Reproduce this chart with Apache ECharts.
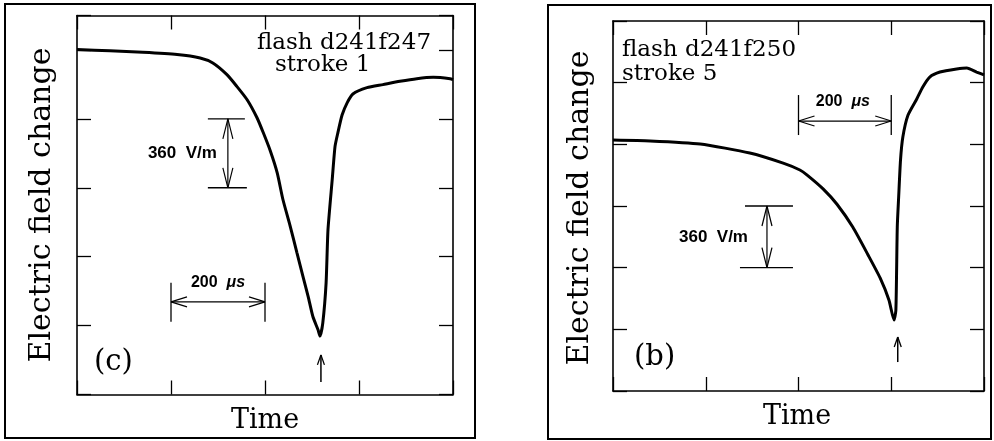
<!DOCTYPE html>
<html><head><meta charset="utf-8">
<script src="https://cdn.jsdelivr.net/npm/echarts@6/dist/echarts.min.js"></script>
<style>html,body{margin:0;padding:0;background:#fff}#c{width:994px;height:441px}</style>
</head><body><div id="c"></div>
<script>
// Panel (c): flash d241f247, stroke 1  — time in µs, field in V/m (relative)
const leftTime  = [0, 70, 140, 213, 262, 289, 319, 340, 362, 383, 396, 411, 426, 438, 453, 468, 481, 492, 502, 513, 517, 523, 530, 534, 543, 549, 555, 564, 575, 587, 617, 651, 687, 723, 758, 794, 800];
const leftField = [1802, 1796, 1788, 1776, 1758, 1732, 1671, 1610, 1540, 1446, 1370, 1275, 1158, 1020, 885, 740, 615, 510, 406, 337, 305, 374, 583, 860, 1122, 1296, 1367, 1460, 1525, 1570, 1603, 1619, 1636, 1650, 1657, 1650, 1645];
// Panel (b): flash d241f250, stroke 5
const rightTime  = [0, 80, 188, 295, 367, 403, 418, 453, 483, 517, 550, 576, 595, 606, 610, 613, 616, 620, 625, 636, 655, 668, 683, 705, 741, 763, 784, 800];
const rightField = [1465, 1460, 1442, 1389, 1330, 1290, 1262, 1180, 1090, 957, 794, 660, 531, 414, 473, 959, 1134, 1349, 1483, 1610, 1705, 1775, 1833, 1862, 1880, 1886, 1862, 1845];

const timeRange = [0, 800];      // µs, ticks every 200 µs
const timeStep = 200;
const fieldStep = 360;           // V/m per tick
const leftFieldMax = 1980;
const rightFieldMax = 2160;

// Scale-bar annotations (data units)
const leftTimeBar = [200, 400], leftTimeBarField = 484;
const leftFieldBar = [1440, 1080], leftFieldBarTime = 321;
const leftPeakArrow = {time: 519, fieldTop: 207, fieldBottom: 65};
const rightTimeBar = [400, 600], rightTimeBarField = 1576;
const rightFieldBar = [1080, 720], rightFieldBarTime = 332;
const rightPeakArrow = {time: 614, fieldTop: 315, fieldBottom: 169};

const zip = (a, b) => a.map((v, i) => [v, b[i]]);

const serif = '"DejaVu Serif", serif';
const sans = '"Liberation Sans", Arial, sans-serif';

function xAxisDef(grid, pos) {
  return {type: 'value', gridIndex: grid, position: pos, min: timeRange[0], max: timeRange[1], interval: timeStep,
    axisLabel: {show: false}, splitLine: {show: false},
    axisLine: {show: true, onZero: false, lineStyle: {color: '#000', width: 1.6}},
    axisTick: {show: true, inside: true, length: 14, lineStyle: {color: '#000', width: 1.3}}};
}
function yAxisDef(grid, pos, max) {
  return {type: 'value', gridIndex: grid, position: pos, min: 0, max: max, interval: fieldStep,
    axisLabel: {show: false}, splitLine: {show: false},
    axisLine: {show: true, onZero: false, lineStyle: {color: '#000', width: 1.6}},
    axisTick: {show: true, inside: true, length: 14, lineStyle: {color: '#000', width: 1.3}}};
}

function annotRenderer(list) {
  return function (params, api) {
    const a = list[params.dataIndex];
    const ch = [];
    const ln = (x1, y1, x2, y2, w) => ch.push({type: 'line', shape: {x1, y1, x2, y2}, style: {stroke: '#000', lineWidth: w || 1.2}});
    if (a.kind === 'time') {
      const p1 = api.coord([a.x1, a.y]), p2 = api.coord([a.x2, a.y]);
      ln(p1[0], p1[1] - a.up, p1[0], p1[1] + a.down, 1.3);
      ln(p2[0], p2[1] - a.up, p2[0], p2[1] + a.down, 1.3);
      ln(p1[0], p1[1], p2[0], p2[1]);
      const L = 16, H = 5;
      ln(p1[0], p1[1], p1[0] + L, p1[1] - H); ln(p1[0], p1[1], p1[0] + L, p1[1] + H);
      ln(p2[0], p2[1], p2[0] - L, p2[1] - H); ln(p2[0], p2[1], p2[0] - L, p2[1] + H);
      ch.push({type: 'text', x: (p1[0] + p2[0]) / 2 + a.labelDx, y: p1[1] + a.labelDy,
        style: {text: '{n|200  }{u|μs}', align: 'center', verticalAlign: 'middle', fill: '#000',
          rich: {n: {font: 'bold 16px ' + sans, fill: '#000'}, u: {font: 'italic bold 16px ' + sans, fill: '#000'}}}});
    } else if (a.kind === 'field') {
      const p1 = api.coord([a.x, a.y1]), p2 = api.coord([a.x, a.y2]);
      ln(p1[0] + a.topL, p1[1], p1[0] + a.topR, p1[1], 1.3);
      ln(p2[0] + a.botL, p2[1], p2[0] + a.botR, p2[1], 1.3);
      ln(p1[0], p1[1], p2[0], p2[1]);
      const L = 20, H = 5;
      ln(p1[0], p1[1], p1[0] - H, p1[1] + L); ln(p1[0], p1[1], p1[0] + H, p1[1] + L);
      ln(p2[0], p2[1], p2[0] - H, p2[1] - L); ln(p2[0], p2[1], p2[0] + H, p2[1] - L);
      ch.push({type: 'text', x: p1[0] + a.labelDx, y: (p1[1] + p2[1]) / 2,
        style: {text: '360  V/m', font: 'bold 17px ' + sans, align: 'right', verticalAlign: 'middle', fill: '#000'}});
    } else if (a.kind === 'arrow') {
      const p1 = api.coord([a.x, a.yTop]), p2 = api.coord([a.x, a.yBottom]);
      ln(p1[0], p1[1], p2[0], p2[1], 1.5);
      ln(p1[0], p1[1], p1[0] - 3.5, p1[1] + 10, 1.3); ln(p1[0], p1[1], p1[0] + 3.5, p1[1] + 10, 1.3);
    }
    return {type: 'group', children: ch};
  };
}

const leftAnnots = [
  {kind: 'time', x1: leftTimeBar[0], x2: leftTimeBar[1], y: leftTimeBarField, up: 19, down: 20, labelDx: 0, labelDy: -19},
  {kind: 'field', x: leftFieldBarTime, y1: leftFieldBar[0], y2: leftFieldBar[1], topL: -20, topR: 17, botL: -20, botR: 19, labelDx: -11},
  {kind: 'arrow', x: leftPeakArrow.time, yTop: leftPeakArrow.fieldTop, yBottom: leftPeakArrow.fieldBottom}
];
const rightAnnots = [
  {kind: 'time', x1: rightTimeBar[0], x2: rightTimeBar[1], y: rightTimeBarField, up: 26, down: 14, labelDx: -2, labelDy: -19},
  {kind: 'field', x: rightFieldBarTime, y1: rightFieldBar[0], y2: rightFieldBar[1], topL: -22, topR: 26, botL: -27, botR: 26, labelDx: -19},
  {kind: 'arrow', x: rightPeakArrow.time, yTop: rightPeakArrow.fieldTop, yBottom: rightPeakArrow.fieldBottom}
];
const anchor = a => a.kind === 'time' ? [a.x1, a.y] : a.kind === 'field' ? [a.x, a.y1] : [a.x, a.yTop];

const chart = echarts.init(document.getElementById('c'), null, {renderer: 'canvas'});
const txt = (x, y, text, font) => ({type: 'text', x, y, silent: true,
  style: {text, font, fill: '#000', align: 'left', verticalAlign: 'middle'}});
const ctxt = (x, y, text, font, rot) => ({type: 'text', x, y, rotation: rot || 0, silent: true,
  style: {text, font, fill: '#000', align: 'center', verticalAlign: 'middle'}});

chart.setOption({
  animation: false,
  backgroundColor: '#fff',
  grid: [
    {left: 77, top: 15.5, width: 376, height: 379, show: false},
    {left: 613, top: 21, width: 371, height: 370, show: false}
  ],
  xAxis: [xAxisDef(0, 'bottom'), xAxisDef(0, 'top'), xAxisDef(1, 'bottom'), xAxisDef(1, 'top')],
  yAxis: [yAxisDef(0, 'left', leftFieldMax), yAxisDef(0, 'right', leftFieldMax), yAxisDef(1, 'left', rightFieldMax), yAxisDef(1, 'right', rightFieldMax)],
  series: [
    {type: 'line', xAxisIndex: 0, yAxisIndex: 0, data: zip(leftTime, leftField), showSymbol: false, smooth: 0.2,
      lineStyle: {color: '#000', width: 3}},
    {type: 'line', xAxisIndex: 2, yAxisIndex: 2, data: zip(rightTime, rightField), showSymbol: false, smooth: 0.2,
      lineStyle: {color: '#000', width: 3}},
    {type: 'custom', xAxisIndex: 0, yAxisIndex: 0, clip: false, data: leftAnnots.map(anchor), renderItem: annotRenderer(leftAnnots)},
    {type: 'custom', xAxisIndex: 2, yAxisIndex: 2, clip: false, data: rightAnnots.map(anchor), renderItem: annotRenderer(rightAnnots)}
  ],
  graphic: [
    {type: 'rect', shape: {x: 5, y: 4, width: 470, height: 434}, style: {fill: null, stroke: '#000', lineWidth: 2}, silent: true},
    {type: 'rect', shape: {x: 548, y: 5, width: 443, height: 434}, style: {fill: null, stroke: '#000', lineWidth: 2}, silent: true},
    ctxt(42, 205, 'Electric field change', '30px ' + serif, Math.PI / 2),
    ctxt(580, 208, 'Electric field change', '30px ' + serif, Math.PI / 2),
    ctxt(265, 421, 'Time', '27px ' + serif),
    ctxt(797, 417, 'Time', '27px ' + serif),
    txt(257, 43, 'flash d241f247', '23px ' + serif),
    txt(275, 65, 'stroke 1', '23px ' + serif),
    txt(622, 50, 'flash d241f250', '23px ' + serif),
    txt(622, 74, 'stroke 5', '23px ' + serif),
    txt(94, 362, '(c)', '29px ' + serif),
    txt(634, 357, '(b)', '29px ' + serif)
  ]
});
</script>
</body></html>
